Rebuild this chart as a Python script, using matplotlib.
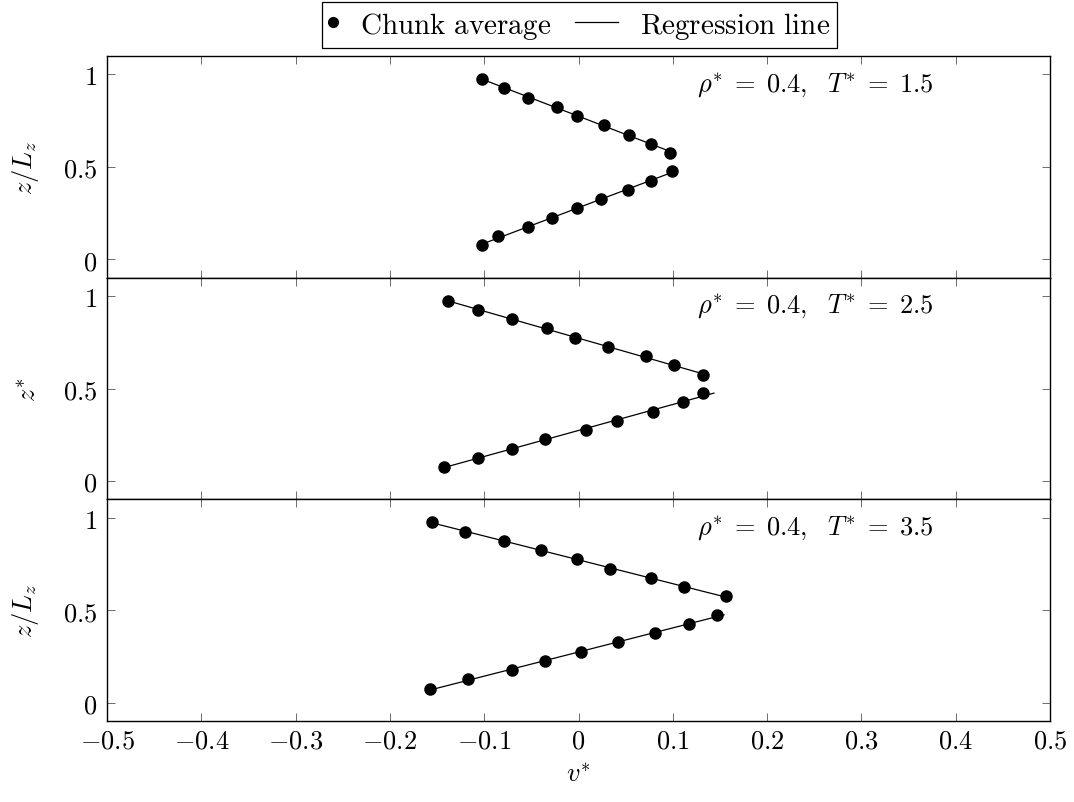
import numpy as np
import matplotlib
matplotlib.use("Agg")
import matplotlib.pyplot as plt
from matplotlib.lines import Line2D
from matplotlib.legend_handler import HandlerBase

plt.rcParams['mathtext.fontset'] = 'cm'
plt.rcParams['font.family'] = 'serif'
plt.rcParams['font.serif'] = ['DejaVu Serif']

z_upper = [0.975, 0.925, 0.875, 0.825, 0.775, 0.725, 0.675, 0.625, 0.575]
z_lower = [0.475, 0.425, 0.375, 0.325, 0.275, 0.225, 0.175, 0.125, 0.075]

v_upper_15 = [-0.102, -0.079, -0.054, -0.023, -0.002, 0.027, 0.054, 0.077, 0.097]
v_lower_15 = [0.099, 0.077, 0.053, 0.024, -0.002, -0.028, -0.054, -0.085, -0.102]

v_upper_25 = [-0.138, -0.107, -0.071, -0.033, -0.004, 0.031, 0.072, 0.101, 0.132]
v_lower_25 = [0.132, 0.111, 0.079, 0.041, 0.008, -0.036, -0.071, -0.107, -0.143]

v_upper_35 = [-0.155, -0.120, -0.079, -0.040, -0.002, 0.033, 0.077, 0.112, 0.156]
v_lower_35 = [0.147, 0.117, 0.081, 0.042, 0.003, -0.035, -0.070, -0.117, -0.157]

panel_labels = [r'$\rho^{*}\;=\;0.4,\ \ T^{*}\;=\;1.5$',
                r'$\rho^{*}\;=\;0.4,\ \ T^{*}\;=\;2.5$',
                r'$\rho^{*}\;=\;0.4,\ \ T^{*}\;=\;3.5$']
ylabels = [r'$z/L_z$', r'$z^{*}$', r'$z/L_z$']
xticks = [-0.5, -0.4, -0.3, -0.2, -0.1, 0, 0.1, 0.2, 0.3, 0.4, 0.5]
yticks = [0, 0.5, 1]
legend_labels = [r'$\mathrm{Chunk\ average}$', r'$\mathrm{Regression\ line}$']

panels = [(v_upper_15, v_lower_15), (v_upper_25, v_lower_25), (v_upper_35, v_lower_35)]

fig = plt.figure(figsize=(10.74, 8.03), dpi=100)
left, right = 107 / 1074, 1050 / 1074
top_px, bot_px = 57, 722
h = (bot_px - top_px) / 3

FS = 19
LFS = 21


def tick_str(t):
    if abs(t) < 1e-12:
        return r'$0$'
    return r'$%g$' % t


axes = []
for i, (vu, vl) in enumerate(panels):
    y0 = 1 - (top_px + (i + 1) * h) / 803
    ax = fig.add_axes([left, y0, right - left, h / 803])
    axes.append(ax)
    for vv, zz in ((vu, z_upper), (vl, z_lower)):
        zz = np.array(zz)
        vv = np.array(vv)
        b, a = np.polyfit(zz, vv, 1)
        zline = np.array([zz.min(), zz.max()])
        ax.plot(a + b * zline, zline, color='black', lw=0.9, zorder=2)
        ax.plot(vv, zz, 'o', color='black', ms=8, zorder=3)
    ax.set_xlim(-0.5, 0.5)
    ax.set_ylim(-0.1, 1.1)
    ax.set_xticks(xticks)
    ax.set_yticks(yticks)
    ax.set_yticklabels([tick_str(t) for t in yticks], fontsize=FS)
    if i == 2:
        ax.set_xticklabels([tick_str(t) for t in xticks], fontsize=FS)
        ax.set_xlabel(r'$v^{*}$', fontsize=FS, labelpad=6)
    else:
        ax.set_xticklabels([])
    ax.tick_params(direction='in', top=True, right=True, length=6, width=0.6,
                   color='#555555')
    ax.tick_params(axis='x', pad=5)
    ax.tick_params(axis='y', pad=7)
    for sp in ax.spines.values():
        sp.set_linewidth(1.0)
    ax.set_ylabel(ylabels[i], fontsize=FS, labelpad=16)
    ax.text(0.626, 0.874, panel_labels[i], transform=ax.transAxes,
            fontsize=FS, ha='left', va='center')


class MarkerLeft(HandlerBase):
    def create_artists(self, legend, orig_handle, xdescent, ydescent,
                       width, height, fontsize, trans):
        m = Line2D([-xdescent + 2.5], [height / 2 - ydescent], marker='o',
                   color='black', ls='none', ms=orig_handle.get_markersize(),
                   transform=trans)
        return [m]


class LineShifted(HandlerBase):
    def create_artists(self, legend, orig_handle, xdescent, ydescent,
                       width, height, fontsize, trans):
        y = height / 2 - ydescent
        l = Line2D([-xdescent - 24.8, -xdescent + 6.2], [y, y], color='black',
                   lw=orig_handle.get_linewidth(), transform=trans)
        return [l]


h_marker = Line2D([], [], marker='o', color='black', ls='none', ms=7)
h_line = Line2D([], [], color='black', lw=0.9)
leg = fig.legend([h_marker, h_line], legend_labels,
                 handler_map={h_marker: MarkerLeft(), h_line: LineShifted()},
                 loc='center', bbox_to_anchor=(579.5 / 1074, 1 - 26 / 803),
                 ncol=2, fontsize=LFS, frameon=True, fancybox=False,
                 edgecolor='black', framealpha=1, handlelength=0.55,
                 columnspacing=2.0, handletextpad=0.5, borderpad=0.25,
                 borderaxespad=0)
leg.get_frame().set_linewidth(0.9)

fig.savefig('out.png', dpi=100)
